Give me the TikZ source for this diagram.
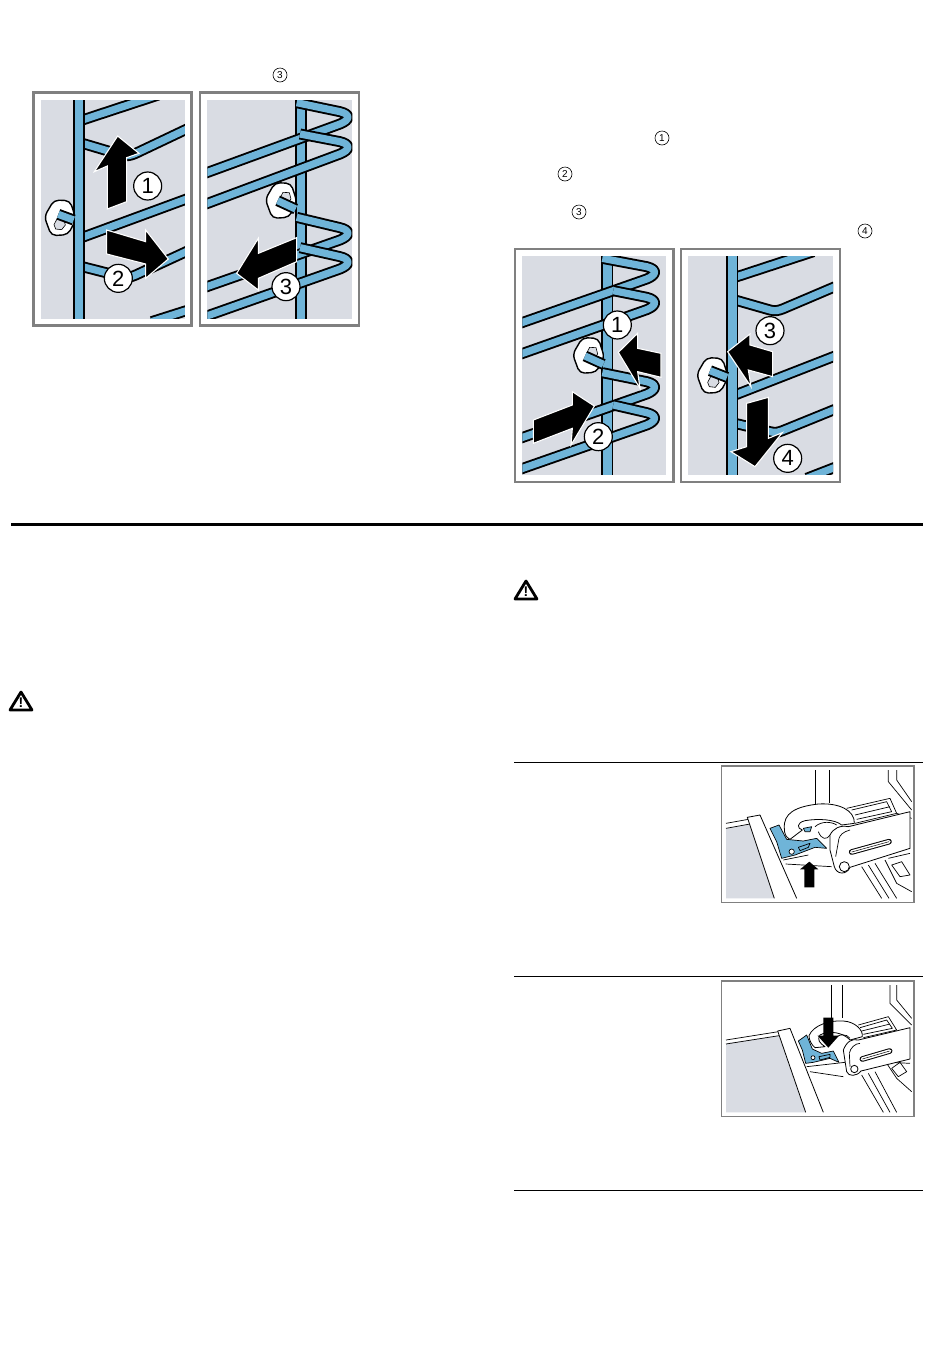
\documentclass[tikz,border=0pt]{standalone}
\usepackage{fontspec}
\setmainfont{Liberation Sans}
\definecolor{railblue}{HTML}{6FB4D8}
\definecolor{panelgray}{HTML}{D9DCE3}
\definecolor{framegray}{HTML}{808080}
\tikzset{
  wirek/.style={draw=black,line width=11pt,line join=round},
  wireb/.style={draw=railblue,line width=7.2pt,line join=round},
  vwirek/.style={draw=black,line width=12pt},
  vwireb/.style={draw=railblue,line width=8.6pt},
  frameA/.style={draw=framegray,line width=2.5pt,fill=white},
  frameB/.style={draw=framegray,line width=1.4pt,fill=white},
  arrowblack/.style={fill=black,draw=white,line width=1.1pt,line join=miter},
  bignum/.style={circle,draw=black,line width=1.2pt,fill=white,minimum size=28pt,inner sep=0pt,font=\fontsize{22}{22}\selectfont},
  smallnum/.style={circle,draw=black,line width=.6pt,fill=white,minimum size=14pt,inner sep=0pt,font=\fontsize{10}{10}\selectfont},
  warn/.style={draw=black,line width=2.8pt,line join=round,fill=white},
  warnmark/.style={font=\bfseries\fontsize{14}{14}\selectfont,inner sep=0pt},
  thinrule/.style={draw=black,line width=1pt},
  ph/.style={draw=black,line width=.7pt,line join=round},
  phw/.style={draw=black,line width=.8pt,fill=white,line join=round},
  zoomA/.style={x=1pt,y=-1pt,shift={(25,60)},x=.33333pt,y=-.33333pt},
  zoomB/.style={x=1pt,y=-1pt,shift={(505,120)},x=.33333pt,y=-.33333pt},
  zoomC/.style={x=1pt,y=-1pt,shift={(715,760)},x=.33333pt,y=-.33333pt},
  zoomD/.style={x=1pt,y=-1pt,shift={(715,975)},x=.33333pt,y=-.33333pt},
}
\newcommand\wire[1]{\draw[wirek] #1; \draw[wireb] #1;}
\newcommand\vwire[3]{\draw[vwirek] (#1,#2) -- (#1,#3); \draw[vwireb] (#1,#2) -- (#1,#3);}
\newcommand\slot[2]{\draw[draw=black,line width=5.6pt,line cap=round] #1 -- #2; \draw[draw=white,line width=3.6pt,line cap=round] #1 -- #2; \draw[draw=black,line width=.5pt] #1 -- #2;}
% #1,#2 centre of the nut; #3,#4 centre of its inner hexagon
\newcommand\nutat[4]{%
  \begin{scope}[shift={(#1,#2)}]
    \draw[draw=black,line width=1.4pt,fill=white,rounded corners=5pt]
      (-47,-2) -- (-18,-52) -- (30,-50) -- (48,6) -- (24,52) -- (-26,55) -- cycle;
    \draw[draw=black,line width=.6pt,fill=panelgray] (#3-16,#4+4) -- (#3-6,#4-15) -- (#3+13,#4-14) -- (#3+18,#4+5) -- (#3+7,#4+19) -- (#3-11,#4+17) -- cycle;
  \end{scope}}
\begin{document}
\begin{tikzpicture}[x=1pt,y=-1pt]
\useasboundingbox (0,0) rectangle (950,1369);
\fill[white] (0,0) rectangle (950,1369);

% ---------- panel 1
\begin{scope}[zoomA]
  \draw[frameA] (26,98) rectangle (500,797);
  \fill[panelgray] (47,120) rectangle (480,776);
  \begin{scope}
    \clip (47,120) rectangle (480,776);
    \wire{(172,180) -- (400,105)}
    \wire{(172,250) -- (290,285) .. controls (305,289) and (315,287) .. (330,281) -- (490,205)}
    \wire{(172,532) -- (490,415)}
    \wire{(172,620) -- (290,650) .. controls (305,654) and (315,652) .. (330,646) -- (490,572)}
    \wire{(380,785) -- (490,750)}
    \nutat{105}{472}{-2}{18}
    \vwire{162}{120}{776}
  \end{scope}
  \wire{(100,463) -- (146,480)}
  \draw[arrowblack] (278,228) -- (342,280) -- (305,293) -- (305,425) -- (247,447) -- (247,318) -- (208,335) -- cycle;
  \draw[arrowblack] (430,597) -- (362,655) -- (362,612) -- (245,582) -- (245,510) -- (362,545) -- (362,510) -- cycle;
  \node[bignum] (aone) at (368,378) {1};
  \node[bignum] (atwo) at (280,655) {2};
\end{scope}

% ---------- panel 2
\begin{scope}[zoomA]
  \draw[frameA] (525,98) rectangle (1002,797);
  \fill[panelgray] (547,120) rectangle (982,776);
  \begin{scope}
    \clip (547,120) rectangle (982,776);
    \vwire{828}{120}{776}
    \wire{(815,128) -- (945,155) .. controls (978,163) and (975,180) .. (945,192) -- (540,340)}
    \wire{(825,222) -- (945,245) .. controls (978,253) and (975,270) .. (945,282) -- (540,433)}
    \wire{(815,472) -- (945,503) .. controls (978,511) and (975,528) .. (945,540) -- (540,682)}
    \wire{(825,563) -- (945,590) .. controls (978,598) and (975,615) .. (945,627) -- (540,770)}
  \end{scope}
  \nutat{768}{420}{12}{-8}
  \wire{(758,422) -- (812,447)}
  \draw[arrowblack] (635,640) -- (700,690) -- (700,655) -- (815,605) -- (815,533) -- (700,580) -- (700,535) -- cycle;
  \node[bignum] (athree) at (783,680) {3};
\end{scope}

% ---------- panel 3
\begin{scope}[zoomB]
  \draw[frameA] (30,387) rectangle (506,1086);
  \fill[panelgray] (52,408) rectangle (484,1064);
  \begin{scope}
    \clip (52,408) rectangle (484,1064);
    \vwire{307}{408}{1064}
    \wire{(292,415) -- (425,440) .. controls (458,448) and (455,465) .. (425,477) -- (45,610)}
    \wire{(325,512) -- (425,532) .. controls (458,540) and (455,557) .. (425,569) -- (45,703)}
    \wire{(292,758) -- (425,785) .. controls (458,793) and (455,810) .. (425,822) -- (45,955)}
    \wire{(325,855) -- (425,878) .. controls (458,886) and (455,903) .. (425,915) -- (45,1048)}
  \end{scope}
  \nutat{250}{705}{10}{-8}
  \wire{(240,708) -- (295,733)}
  \draw[arrowblack] (340,697) -- (398,640) -- (398,685) -- (468,700) -- (468,772) -- (398,755) -- (405,805) -- cycle;
  \draw[arrowblack] (268,858) -- (202,815) -- (202,855) -- (85,900) -- (85,970) -- (202,925) -- (198,975) -- cycle;
  \node[bignum] (bone) at (337,615) {1};
  \node[bignum] (btwo) at (280,950) {2};
\end{scope}

% ---------- panel 4
\begin{scope}[zoomB]
  \draw[frameA] (528,387) rectangle (1005,1086);
  \fill[panelgray] (549,408) rectangle (984,1064);
  \begin{scope}
    \clip (549,408) rectangle (984,1064);
    \wire{(690,472) -- (925,395)}
    \wire{(690,540) -- (795,570) .. controls (810,574) and (820,572) .. (835,566) -- (990,500)}
    \wire{(690,825) -- (990,708)}
    \wire{(690,910) -- (795,935) .. controls (810,939) and (820,937) .. (835,931) -- (990,868)}
    \wire{(905,1075) -- (990,1042)}
    \nutat{622}{765}{2}{18}
    \vwire{682}{408}{1064}
  \end{scope}
  \wire{(615,752) -- (666,772)}
  \draw[arrowblack] (668,695) -- (735,642) -- (735,675) -- (803,695) -- (803,770) -- (730,750) -- (738,800) -- cycle;
  \draw[arrowblack] (750,1040) -- (678,995) -- (725,980) -- (725,850) -- (790,832) -- (790,955) -- (832,938) -- cycle;
  \node[bignum] (bthree) at (795,632) {3};
  \node[bignum] (bfour) at (848,1015) {4};
\end{scope}

% ---------- inline markers
\node[smallnum] (ma) at (280,75) {3};
\node[smallnum] (mb) at (662,138) {1};
\node[smallnum] (mc) at (565,174) {2};
\node[smallnum] (md) at (579,212) {3};
\node[smallnum] (me) at (865,231) {4};

% ---------- rules
\draw[draw=black,line width=3pt] (11,524) -- (923,524);
\draw[thinrule] (514,762) -- (923,762);
\draw[thinrule] (514,976) -- (923,976);
\draw[thinrule] (514,1190) -- (923,1190);

% ---------- warnings
\draw[warn] (21,692) -- (32,710) -- (10,710) -- cycle;
\node[warnmark] (wa) at (21,702.5) {!};
\draw[warn] (526,581) -- (537,599) -- (515,599) -- cycle;
\node[warnmark] (wb) at (526,591.5) {!};

% ---------- photo 1
\begin{scope}[zoomC]
  \draw[frameB] (20,18) rectangle (597,428);
  \fill[panelgray] (33,205) -- (105,192) -- (178,415) -- (33,415) -- cycle;
  \draw[ph] (33,190) -- (100,178);
  \draw[ph] (33,205) -- (105,192);
  \draw[phw] (178,415) -- (97,172) -- (135,165) -- (245,415);
  \draw[ph] (205,300) -- (280,285);
  \draw[ph] (212,312) -- (350,320);
  \draw[ph] (300,30) -- (300,135);
  \draw[ph] (343,30) -- (343,130);
  % tray and rail
  \draw[ph] (395,145) -- (525,115) -- (545,160) -- (420,190);
  \draw[ph] (410,150) -- (515,125) -- (530,155) -- (425,178);
  \draw[ph] (420,165) -- (525,140);
  \draw[ph] (520,30) -- (520,65) -- (590,150);
  \draw[ph] (545,30) -- (545,60) -- (590,125);
  \draw[ph] (545,160) -- (590,175);
  % lower right
  \draw[ph] (440,320) -- (500,415);
  \draw[ph] (460,315) -- (522,415);
  \draw[ph] (480,310) -- (545,415);
  \draw[ph] (510,300) -- (545,370) -- (590,395);
  \draw[ph] (520,295) -- (585,280);
  \draw[ph] (530,315) -- (560,305) -- (585,345) -- (555,350) -- cycle;
  % blue catch
  \filldraw[draw=black,line width=.7pt,fill=railblue,line join=round] (165,205) -- (192,195) -- (215,238) -- (265,243) -- (305,235) -- (335,265) -- (300,262) -- (240,285) -- (200,295) -- (185,245) -- cycle;
  \draw[ph] (250,262) -- (285,250) -- (280,262) -- (255,272) -- cycle;
  \draw[ph,fill=white] (230,275) circle (8);
  % ring
  \filldraw[phw,even odd rule] (208,205) .. controls (205,160) and (240,140) .. (310,132) .. controls (370,128) and (420,150) .. (418,190) -- (380,195) .. controls (360,178) and (310,175) .. (270,182) .. controls (245,188) and (245,205) .. (262,210) -- (225,238) .. controls (212,232) and (208,220) .. (208,205) -- cycle;
  \draw[ph,fill=railblue] (265,205) -- (290,200) -- (285,215) -- (270,215) -- cycle;
  \draw[ph] (300,200) .. controls (320,182) and (350,185) .. (365,195);
  \draw[ph] (310,215) .. controls (320,240) and (335,240) .. (345,225);
  % bracket
  \draw[phw] (345,225) .. controls (355,205) and (375,195) .. (400,200) -- (585,155) -- (585,265) -- (405,322) .. controls (395,345) and (365,345) .. (358,320) -- (345,270) -- cycle;
  \draw[ph] (372,235) .. controls (375,225) and (385,215) .. (405,210);
  \draw[ph] (372,235) -- (362,290);
  \slot{(410,276)}{(522,245)}
  \draw[phw] (388,320) circle (15);
  % arrow
  \fill[black] (283,305) -- (310,328) -- (298,328) -- (298,382) -- (268,382) -- (268,328) -- (255,328) -- cycle;
\end{scope}

% ---------- photo 2
\begin{scope}[zoomD]
  \draw[frameB] (20,18) rectangle (597,425);
  \fill[panelgray] (33,205) -- (192,182) -- (272,412) -- (33,412) -- cycle;
  \draw[ph] (33,195) -- (190,170);
  \draw[ph] (33,207) -- (192,182);
  \draw[phw] (272,412) -- (188,168) -- (225,160) -- (325,412);
  \draw[ph] (275,275) -- (390,262);
  \draw[ph] (285,290) -- (385,305);
  \draw[ph] (348,30) -- (348,135);
  \draw[ph] (383,30) -- (383,130);
  % tray and rail
  \draw[ph] (430,150) -- (520,125) -- (545,165) -- (445,188);
  \draw[ph] (435,158) -- (515,135) -- (532,160) -- (445,178);
  \draw[ph] (440,168) -- (525,147);
  \draw[ph] (525,30) -- (525,85) -- (590,150);
  \draw[ph] (545,30) -- (545,75) -- (590,130);
  % lower right
  \draw[ph] (440,300) -- (505,412);
  \draw[ph] (460,295) -- (525,412);
  \draw[ph] (480,290) -- (545,412);
  \draw[ph] (515,265) -- (545,310) -- (590,350);
  \draw[ph] (525,262) -- (585,265);
  \draw[ph] (530,280) -- (555,262) -- (575,290) -- (550,305) -- cycle;
  % ring
  \filldraw[phw] (282,182) .. controls (295,150) and (345,135) .. (385,138) .. controls (420,140) and (445,165) .. (442,185) -- (405,195) .. controls (385,172) and (340,165) .. (315,180) .. controls (305,195) and (315,205) .. (330,215) -- (300,218) .. controls (290,210) and (282,195) .. (282,182) -- cycle;
  \draw[ph] (355,195) .. controls (370,175) and (395,175) .. (405,190);
  % blue catch
  \filldraw[draw=black,line width=.7pt,fill=railblue,line join=round] (250,198) -- (275,180) -- (292,222) -- (320,235) -- (355,228) -- (372,262) -- (345,250) -- (295,262) -- (272,265) -- (262,225) -- cycle;
  \draw[ph] (312,245) -- (345,238) -- (345,247) -- (315,255) -- cycle;
  \draw[ph,fill=white] (294,248) circle (6);
  % bracket
  \draw[phw] (385,225) .. controls (395,200) and (410,190) .. (430,195) -- (585,158) -- (585,252) -- (438,288) .. controls (425,305) and (400,305) .. (395,290) -- cycle;
  \draw[ph] (403,235) .. controls (405,220) and (420,205) .. (435,205);
  \draw[ph] (403,235) -- (405,275);
  \slot{(442,252)}{(524,228)}
  \draw[phw] (418,282) circle (11);
  % arrow
  \fill[black] (340,218) -- (308,182) -- (325,182) -- (325,128) -- (355,128) -- (355,182) -- (372,182) -- cycle;
\end{scope}
\end{tikzpicture}
\end{document}
